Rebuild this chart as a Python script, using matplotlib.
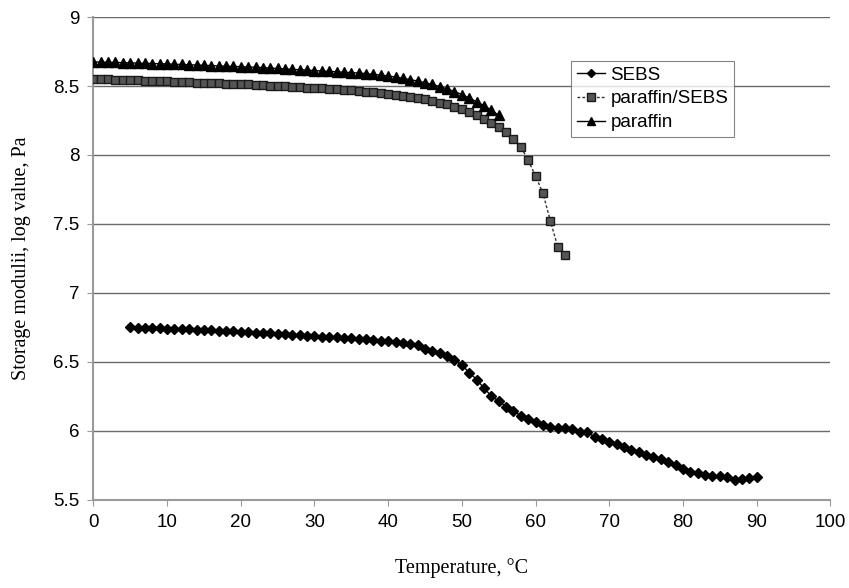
import matplotlib
matplotlib.use("Agg")
import matplotlib.pyplot as plt
from matplotlib.lines import Line2D

# ---- data ----
sebs_t = list(range(5, 91))
sebs_v = [6.751, 6.749, 6.747, 6.745, 6.743, 6.741, 6.739, 6.737, 6.735, 6.733,
          6.731, 6.729, 6.727, 6.724, 6.721, 6.718, 6.715, 6.712, 6.709, 6.706,
          6.703, 6.700, 6.697, 6.694, 6.690, 6.686, 6.683, 6.680, 6.677, 6.674,
          6.671, 6.668, 6.664, 6.659, 6.654, 6.649, 6.644, 6.639, 6.632, 6.623,
          6.592, 6.578, 6.563, 6.543, 6.510, 6.478, 6.422, 6.372, 6.310, 6.252,
          6.215, 6.176, 6.145, 6.109, 6.087, 6.067, 6.043, 6.027, 6.020, 6.020,
          6.012, 5.995, 5.995, 5.954, 5.942, 5.922, 5.903, 5.880, 5.862, 5.845,
          5.826, 5.810, 5.795, 5.773, 5.754, 5.723, 5.705, 5.693, 5.679, 5.674,
          5.669, 5.665, 5.640, 5.654, 5.660, 5.667]

blend_t = list(range(0, 65))
blend_v = [8.552, 8.550, 8.548, 8.547, 8.545, 8.543, 8.541, 8.539, 8.537, 8.535,
           8.533, 8.531, 8.529, 8.527, 8.525, 8.523, 8.521, 8.519, 8.517, 8.515,
           8.513, 8.511, 8.509, 8.506, 8.503, 8.500, 8.497, 8.494, 8.491, 8.488,
           8.485, 8.482, 8.479, 8.476, 8.472, 8.468, 8.464, 8.460, 8.455, 8.450,
           8.444, 8.437, 8.430, 8.422, 8.413, 8.403, 8.392, 8.380, 8.366, 8.350,
           8.333, 8.313, 8.290, 8.263, 8.234, 8.205, 8.169, 8.116, 8.058, 7.962,
           7.848, 7.723, 7.524, 7.336, 7.275]

paraffin_t = list(range(0, 56))
paraffin_v = [8.675, 8.674, 8.672, 8.671, 8.669, 8.668, 8.666, 8.665, 8.663, 8.662,
              8.660, 8.658, 8.656, 8.654, 8.652, 8.650, 8.648, 8.646, 8.644, 8.642,
              8.640, 8.638, 8.636, 8.633, 8.630, 8.627, 8.624, 8.621, 8.618, 8.615,
              8.612, 8.609, 8.606, 8.603, 8.600, 8.597, 8.594, 8.590, 8.585, 8.579,
              8.573, 8.565, 8.556, 8.546, 8.536, 8.524, 8.511, 8.496, 8.479, 8.460,
              8.438, 8.413, 8.386, 8.358, 8.325, 8.288]

x_ticks = list(range(0, 101, 10))
y_ticks = [5.5, 6, 6.5, 7, 7.5, 8, 8.5, 9]
y_tick_labels = ["5.5", "6", "6.5", "7", "7.5", "8", "8.5", "9"]

SANS = ["Liberation Sans", "DejaVu Sans"]
SERIF = ["Liberation Serif", "DejaVu Serif"]

# ---- figure ----
fig = plt.figure(figsize=(8.49, 5.88), dpi=100)
ax = fig.add_axes([0.110, 0.150, 0.868, 0.821])

ax.set_xlim(0, 100)
ax.set_ylim(5.5, 9)
ax.set_xticks(x_ticks)
ax.set_yticks(y_ticks)
ax.set_yticklabels(y_tick_labels)

for y in y_ticks[1:]:
    ax.axhline(y, color="#6a6a6a", lw=1.0, zorder=0)

ax.plot(sebs_t, sebs_v, color="black", lw=1.0, marker="D", ms=5.5,
        mfc="black", mec="black", zorder=3)
ax.plot(blend_t, blend_v, color="#333333", lw=1.0, ls=(0, (2, 1.5)), marker="s", ms=6,
        mfc="#555555", mec="#1a1a1a", mew=1.0, zorder=3)
ax.plot(paraffin_t, paraffin_v, color="black", lw=1.0, marker="^", ms=7,
        mfc="black", mec="black", zorder=4)

for s in ["top", "right"]:
    ax.spines[s].set_visible(False)
for s in ["left", "bottom"]:
    ax.spines[s].set_color("#9a9a9a")
    ax.spines[s].set_linewidth(1.5)

ax.tick_params(axis="both", direction="out", length=4, color="#9a9a9a",
               labelsize=13.5)
for lab in ax.get_xticklabels() + ax.get_yticklabels():
    lab.set_fontfamily(SANS)
ax.tick_params(axis="x", pad=6)
ax.tick_params(axis="y", pad=6)

ax.set_xlabel("Temperature, °C", fontsize=14.5, fontfamily=SERIF, labelpad=20)
ax.set_ylabel("Storage modulii, log value, Pa", fontsize=14.5, fontfamily=SERIF,
              labelpad=16)

handles = [
    Line2D([], [], color="black", lw=1.0, marker="D", ms=4.5, mfc="black"),
    Line2D([], [], color="#333333", lw=1.0, ls=(0, (2, 1.5)), marker="s", ms=5.5,
           mfc="#555555", mec="#1a1a1a"),
    Line2D([], [], color="black", lw=1.0, marker="^", ms=6, mfc="black"),
]
leg = ax.legend(handles, ["SEBS", "paraffin/SEBS", "paraffin"],
                loc="upper left", bbox_to_anchor=(0.648, 0.909),
                prop={"family": SANS, "size": 13.5},
                frameon=True, fancybox=False, handlelength=1.5,
                handletextpad=0.3, borderpad=0.3, labelspacing=0.35,
                borderaxespad=0)
leg.get_frame().set_edgecolor("#666666")
leg.get_frame().set_linewidth(0.8)

fig.savefig("out.png", dpi=100)
